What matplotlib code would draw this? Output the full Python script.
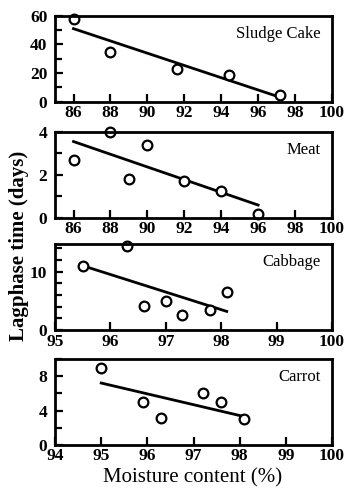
import matplotlib
matplotlib.use("Agg")
import matplotlib.pyplot as plt
from matplotlib.ticker import MultipleLocator

plt.rcParams["font.family"] = ["Liberation Serif", "DejaVu Serif"]

# sludge cake
sludge_x = [86.0, 88.0, 91.6, 94.4, 97.2]
sludge_y = [58, 35, 23, 19, 5]
sludge_fit_x = [86.0, 97.0]
sludge_fit_y = [51, 4]

# meat
meat_x = [86.0, 88.0, 89.0, 90.0, 92.0, 94.0, 96.0]
meat_y = [2.7, 4.0, 1.8, 3.4, 1.7, 1.25, 0.2]
meat_fit_x = [86.0, 96.0]
meat_fit_y = [3.55, 0.6]

# cabbage
cabbage_x = [95.5, 96.3, 96.6, 97.0, 97.3, 97.8, 98.1]
cabbage_y = [11.0, 14.3, 4.2, 5.0, 2.5, 3.5, 6.5]
cabbage_fit_x = [95.5, 98.1]
cabbage_fit_y = [11.0, 3.2]

# carrot
carrot_x = [95.0, 95.9, 96.3, 97.2, 97.6, 98.1]
carrot_y = [9.0, 5.0, 3.1, 6.0, 5.0, 3.0]
carrot_fit_x = [95.0, 98.1]
carrot_fit_y = [7.2, 3.3]

panels = [
    ("Sludge Cake", sludge_x, sludge_y, sludge_fit_x, sludge_fit_y,
     (85, 100), 2, (0, 60), 20, 10, 0.793),
    ("Meat", meat_x, meat_y, meat_fit_x, meat_fit_y,
     (85, 100), 2, (0, 4), 2, 1, 0.557),
    ("Cabbage", cabbage_x, cabbage_y, cabbage_fit_x, cabbage_fit_y,
     (95, 100), 1, (0, 14.7), 10, 2, 0.329),
    ("Carrot", carrot_x, carrot_y, carrot_fit_x, carrot_fit_y,
     (94, 100), 1, (0, 10), 4, 2, 0.0955),
]

fig = plt.figure(figsize=(3.44, 4.92), dpi=100)

for name, x, y, fx, fy, xlim, xstep, ylim, ymaj, ymin, bottom in panels:
    ax = fig.add_axes([0.16, bottom, 0.805, 0.175])
    ax.plot(fx, fy, color="black", lw=2)
    ax.plot(x, y, "o", mfc="white", mec="black", ms=7, mew=1.6, clip_on=False)
    ax.set_xlim(*xlim)
    ax.set_ylim(*ylim)
    ax.xaxis.set_major_locator(MultipleLocator(xstep))
    ax.yaxis.set_major_locator(MultipleLocator(ymaj))
    ax.yaxis.set_minor_locator(MultipleLocator(ymin))
    if xlim[0] == 85:
        ax.set_xticks(range(86, 101, 2))
    ax.tick_params(direction="in", width=1.6, length=6, labelsize=12.5)
    ax.tick_params(axis="x", pad=2.5)
    ax.tick_params(axis="y", pad=5.5)
    ax.tick_params(axis="y", which="minor", direction="in", width=1.6, length=5)
    for lab in ax.get_xticklabels() + ax.get_yticklabels():
        lab.set_fontweight("bold")
    for lab in ax.get_yticklabels():
        lab.set_verticalalignment("center_baseline")
    for sp in ax.spines.values():
        sp.set_linewidth(2)
    ax.text(0.96, 0.88, name, transform=ax.transAxes, ha="right", va="top",
            fontsize=12)

fig.text(0.055, 0.5, "Lagphase time (days)", rotation=90, ha="center",
         va="center", fontsize=15, fontweight="bold")
fig.text(0.56, 0.028, "Moisture content (%)", ha="center", va="center",
         fontsize=15)

fig.savefig("out.png", dpi=100)
